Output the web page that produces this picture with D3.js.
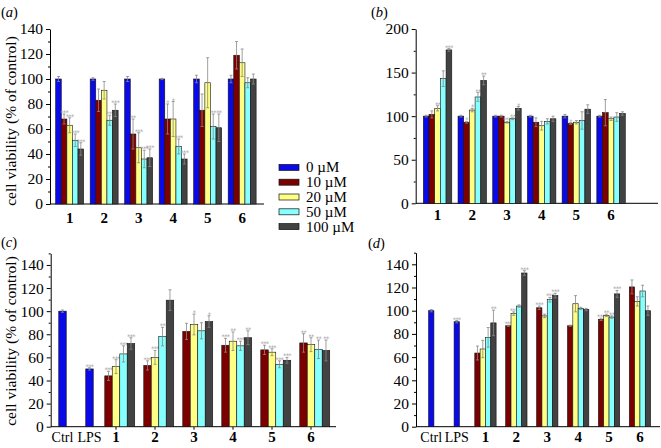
<!DOCTYPE html>
<html><head><meta charset="utf-8">
<script src="https://cdn.jsdelivr.net/npm/d3@7"></script>
<style>
body{margin:0;background:#fff;}
svg{display:block;font-family:"Liberation Serif","Times New Roman",serif;}
</style></head>
<body><svg id="chart" width="661" height="448"></svg>
<script>
// ---------- data ----------
const groups = ["1","2","3","4","5","6"];
const ctrlCats = ["Ctrl","LPS"];
const seriesNames = ["0 µM","10 µM","20 µM","50 µM","100 µM"];
const seriesColors = ["#0a0ae8","#7d0000","#ffff86","#86ffff","#424242"];

// panel (a)
const a0 = [100,100,100,100,100,100],  a0e = [2,1,2,0.5,3,3];
const a10 = [68,83,56,68,75,119],      a10e = [4,9,12,12,13,11];
const a20 = [63,91,45,68,97,113],      a20e = [6,7,12,14,20,11];
const a50 = [51,67,36,46,62,97],       a50e = [5,4,7,6,10,4];
const a100 = [44,75,37,36,61,100],     a100e = [5,5,7,4,11,4];
const aStars = [["","","","","",""],["***","","**","*","",""],["***","","***","*","",""],
                ["***","***","***","***","**",""],["***","***","***","***","**",""]];
// panel (b)
const b0 = [100,100,100,100,100,100],  b0e = [1,1,1,1,2,1];
const b10 = [102,93,100,93,91.5,104],  b10e = [4,1,1,5,1,15];
const b20 = [109,107,93,89,93,97],     b20e = [3,2,1,5,2,2];
const b50 = [143,122,97,94,95,99],     b50e = [9,5,1,3,10,5];
const b100 = [176,141,109,97,108,103], b100e = [1.5,5,2,3,5,2];
const bStars = [["","","","","",""],["","*","","","*",""],["**","*","***","","",""],
                ["","**","**","","",""],["***","**","*","","",""]];
// panel (c)
const cCtrl = [100,50], cCtrlE = [1,1], cCtrlStars = ["","***"];
const c10 = [44,53,82.5,70.5,66.5,72.5], c10e = [4,4,7,6,4,8];
const c20 = [52,60,88.5,74,64.5,71],     c20e = [6,6,9,8,3,6];
const c50 = [63,78,83,70,54,67],         c50e = [7,8,7,4,3,8];
const c100 = [72,109.5,91,77,57.5,66],   c100e = [5,9,5,6,2.5,9];
const cStars = [["***","***","","***","***","**"],["***","***","*","**","***","**"],
                ["***","**","","***","***","**"],["***","","*","**","***","**"]];
// panel (d)
const dCtrl = [100,90.5], dCtrlE = [1,1], dCtrlStars = ["","***"];
const d10 = [63.5,87,102.5,87,92.5,120.5], d10e = [6,0.5,1.5,0.5,1,6];
const d20 = [67,97.5,95.5,106,96,108],     d20e = [7.5,1.5,1.5,7,1,4];
const d50 = [77,104,109.5,102,94.5,117],   d50e = [8.5,1,2,1,1,5];
const d100 = [89.5,132.5,113,101,114.5,100], d100e = [11,2,2,1,3,4];
const dStars = [["","***","***","","***",""],["","***","","","**",""],
                ["","","***","","**",""],["**","***","***","","***",""]];

const yTitle = "cell viability (% of control)";

// ---------- drawing ----------
const svg = d3.select("#chart");

function yAxis(g, y, x0, major, minor){
  const ax = g.append("g").attr("transform",`translate(${x0},0)`)
    .call(d3.axisLeft(y).tickValues(major).tickSize(4).tickSizeOuter(0).tickPadding(3));
  ax.selectAll("text").attr("font-size",15.5).attr("fill","#000").attr("font-family","Liberation Serif, serif");
  ax.select(".domain").attr("stroke","#000");
  const mn = g.append("g").attr("transform",`translate(${x0},0)`)
    .call(d3.axisLeft(y).tickValues(minor).tickSize(2).tickFormat(""));
  mn.select(".domain").remove();
}

function drawBar(g, cx, w, y, v, e, color, star){
  const top = y(v), base = y(0);
  g.append("rect").attr("x",cx-w/2).attr("y",top).attr("width",w).attr("height",base-top)
    .attr("fill",color).attr("stroke","#111").attr("stroke-width",0.6);
  if(e>0){
    const eg = g.append("g").attr("stroke","#888").attr("stroke-width",0.8);
    eg.append("line").attr("x1",cx).attr("x2",cx).attr("y1",y(v-e)).attr("y2",y(v+e));
    eg.append("line").attr("x1",cx-1.5).attr("x2",cx+1.5).attr("y1",y(v+e)).attr("y2",y(v+e));
    eg.append("line").attr("x1",cx-1.5).attr("x2",cx+1.5).attr("y1",y(v-e)).attr("y2",y(v-e));
  }
  if(star){
    g.append("text").attr("x",cx).attr("y",y(v+e)+1).attr("text-anchor","middle")
      .attr("font-size",6.5).attr("letter-spacing",-0.6).attr("fill","#999")
      .attr("font-family","DejaVu Sans, sans-serif").text(star);
  }
}

function panelLabel(x, y, letter){
  const t = svg.append("text").attr("x",x).attr("y",y).attr("font-size",14.5);
  t.append("tspan").text("(");
  t.append("tspan").attr("font-style","italic").text(letter);
  t.append("tspan").text(")");
}

function yTitleAt(x, cy){
  svg.append("text").attr("transform",`translate(${x},${cy}) rotate(-90)`)
    .attr("text-anchor","middle").attr("font-size",15.5).text(yTitle);
}

function xLabels(g, scale, yPos, bold, size, centerFn){
  scale.domain().forEach(d=>{
    g.append("text").attr("x",centerFn(d)).attr("y",yPos).attr("text-anchor","middle")
      .attr("font-size",size).attr("font-weight",bold?"bold":"normal").text(d);
  });
}

// ---- panel a / b (5 series incl. 0 µM) ----
function panelAB(opt){
  const g = svg.append("g");
  const x = d3.scaleBand().domain(groups).range(opt.xr).paddingInner(opt.pad).paddingOuter(opt.pad/2);
  const xs = d3.scaleBand().domain(d3.range(5)).range([0,x.bandwidth()]);
  const y = d3.scaleLinear().domain(opt.yd).range(opt.yr);
  yAxis(g, y, opt.ax, opt.major, opt.minor);
  g.append("line").attr("x1",opt.ax).attr("x2",opt.axEnd).attr("y1",y(0)).attr("y2",y(0)).attr("stroke","#000");
  opt.vals.forEach((vals,s)=>{
    vals.forEach((v,i)=>{
      const cx = x(groups[i]) + xs(s) + xs.bandwidth()/2;
      drawBar(g, cx, xs.bandwidth(), y, v, opt.errs[s][i], seriesColors[s], opt.stars[s][i]);
    });
  });
  xLabels(g, x, opt.labY, true, 15, d=>x(d)+x.bandwidth()/2);
}

panelAB({xr:[52.4,259.4], pad:0.19, yd:[0,140], yr:[204,29], ax:50, axEnd:264,
  major:d3.range(0,141,20), minor:d3.range(10,140,20),
  vals:[a0,a10,a20,a50,a100], errs:[a0e,a10e,a20e,a50e,a100e], stars:aStars, labY:223});
panelAB({xr:[420.2,628.4], pad:0.18, yd:[0,200], yr:[203.3,29], ax:415.7, axEnd:658,
  major:d3.range(0,201,50), minor:d3.range(25,200,50),
  vals:[b0,b10,b20,b50,b100], errs:[b0e,b10e,b20e,b50e,b100e], stars:bStars, labY:220});

// ---- panel c / d (Ctrl, LPS + 4 series) ----
function panelCD(opt){
  const g = svg.append("g");
  const x = d3.scaleBand().domain(groups).range(opt.xr).paddingInner(opt.pad).paddingOuter(opt.pad/2);
  const xs = d3.scaleBand().domain(d3.range(opt.slots)).range([0,x.bandwidth()]);
  const xc = d3.scaleBand().domain(ctrlCats).range(opt.cr);
  const y = d3.scaleLinear().domain([0,150]).range(opt.yr);
  yAxis(g, y, opt.ax, d3.range(0,141,20), d3.range(10,151,20));
  g.append("line").attr("x1",opt.ax).attr("x2",opt.axEnd).attr("y1",y(0)).attr("y2",y(0)).attr("stroke","#000");
  if(opt.ticks){
    groups.forEach(d=>{
      const cx = x(d)+x.bandwidth()/2;
      g.append("line").attr("x1",cx).attr("x2",cx).attr("y1",y(0)).attr("y2",y(0)+3).attr("stroke","#000");
    });
  }
  const w = xs.bandwidth();
  opt.ctrl.forEach((v,i)=>{
    drawBar(g, xc(ctrlCats[i])+xc.bandwidth()/2, w, y, v, opt.ctrlE[i], seriesColors[0], opt.ctrlStars[i]);
  });
  opt.vals.forEach((vals,s)=>{
    vals.forEach((v,i)=>{
      const cx = x(groups[i]) + xs(s+opt.offset) + w/2;
      drawBar(g, cx, w, y, v, opt.errs[s][i], seriesColors[s+1], opt.stars[s][i]);
    });
  });
  xLabels(g, xc, opt.labY, false, 14, d=>xc(d)+xc.bandwidth()/2);
  xLabels(g, x, opt.labY, true, 15, d=>x(d)+x.bandwidth()/2);
}

panelCD({xr:[96.5,330.5], pad:0.04, slots:5, offset:1, cr:[49,103], yr:[426.7,253.4], ax:50.7, axEnd:336, ticks:true,
  ctrl:cCtrl, ctrlE:cCtrlE, ctrlStars:cCtrlStars,
  vals:[c10,c20,c50,c100], errs:[c10e,c20e,c50e,c100e], stars:cStars, labY:442});
panelCD({xr:[470,655.4], pad:0.31, slots:4, offset:0, cr:[418.5,469.5], yr:[426.7,252.7], ax:416, axEnd:660, ticks:false,
  ctrl:dCtrl, ctrlE:dCtrlE, ctrlStars:dCtrlStars,
  vals:[d10,d20,d50,d100], errs:[d10e,d20e,d50e,d100e], stars:dStars, labY:442});

// panel labels & titles
panelLabel(1,17,"a"); panelLabel(371,17,"b"); panelLabel(1,247,"c"); panelLabel(368,248,"d");
yTitleAt(16,121); yTitleAt(16,341);

// legend
const lg = svg.append("g");
const ly = d3.scaleBand().domain(seriesNames).range([160,234]);
seriesNames.forEach((n,i)=>{
  const cy = ly(n)+ly.bandwidth()/2;
  lg.append("rect").attr("x",279).attr("y",cy-3).attr("width",20).attr("height",6)
    .attr("fill",seriesColors[i]).attr("stroke","#111").attr("stroke-width",0.7);
  lg.append("text").attr("x",306).attr("y",cy+5).attr("font-size",15).text(n);
});
</script></body></html>
